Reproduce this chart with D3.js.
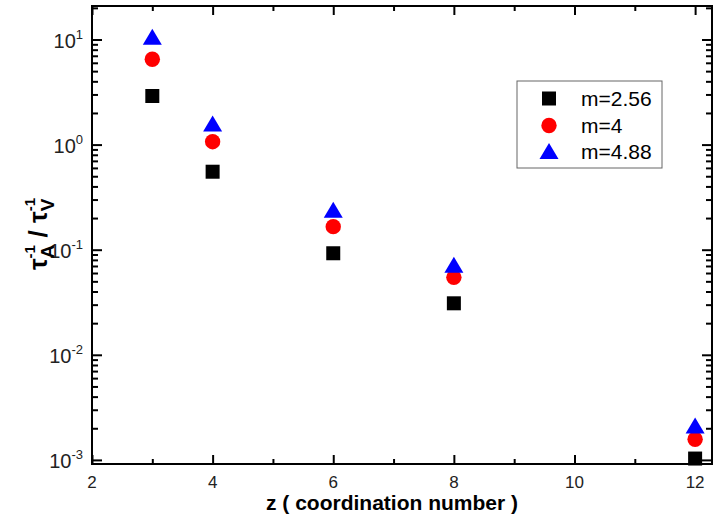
<!DOCTYPE html>
<html><head><meta charset="utf-8">
<script src="https://cdn.jsdelivr.net/npm/d3@7"></script>
<style>body{margin:0;background:#fff;} svg{display:block;font-family:"Liberation Sans",Arial,sans-serif;}</style>
</head><body><svg id="c" width="720" height="518"></svg>
<script>
const zValues = [3, 4, 6, 8, 12];
const seriesNames = ["m=2.56", "m=4", "m=4.88"];
const m256 = [2.9, 0.552, 0.0925, 0.0309, 0.00103];
const m4 = [6.49, 1.066, 0.1656, 0.0546, 0.00157];
const m488 = [10.5, 1.57, 0.237, 0.071, 0.0021];
const xTicks = [2, 4, 6, 8, 10, 12];
const yDecades = [-3, -2, -1, 0, 1];

const svg = d3.select("#c");
const L = 92, R = 712, T = 6, B = 464;
const x = d3.scaleLinear().domain([2, 12.28]).range([L, R]);
const y = d3.scaleLog().domain([Math.pow(10, -3.039), Math.pow(10, 1.3187)]).range([B, T]);

const majorY = yDecades.map(e => Math.pow(10, e));
const minorY = [];
yDecades.forEach(e => { for (let k = 2; k <= 9; k++) { const v = k * Math.pow(10, e); if (v <= y.domain()[1]) minorY.push(v); } });
const minorX = [3, 5, 7, 9, 11];

function styleAxis(g) {
  g.select(".domain").remove();
  g.selectAll(".tick line").attr("stroke", "#000").attr("stroke-width", 2);
}
svg.append("g").attr("transform", `translate(${L},0)`)
  .call(d3.axisRight(y).tickValues(majorY).tickSize(10).tickFormat("")).call(styleAxis);
svg.append("g").attr("transform", `translate(${L},0)`)
  .call(d3.axisRight(y).tickValues(minorY).tickSize(6).tickFormat("")).call(styleAxis);
svg.append("g").attr("transform", `translate(${R},0)`)
  .call(d3.axisLeft(y).tickValues(majorY).tickSize(10).tickFormat("")).call(styleAxis);
svg.append("g").attr("transform", `translate(${R},0)`)
  .call(d3.axisLeft(y).tickValues(minorY).tickSize(6).tickFormat("")).call(styleAxis);
svg.append("g").attr("transform", `translate(0,${B})`)
  .call(d3.axisTop(x).tickValues(xTicks).tickSize(9).tickFormat("")).call(styleAxis);
svg.append("g").attr("transform", `translate(0,${B})`)
  .call(d3.axisTop(x).tickValues(minorX).tickSize(5).tickFormat("")).call(styleAxis);
svg.append("g").attr("transform", `translate(0,${T})`)
  .call(d3.axisBottom(x).tickValues(xTicks).tickSize(9).tickFormat("")).call(styleAxis);
svg.append("g").attr("transform", `translate(0,${T})`)
  .call(d3.axisBottom(x).tickValues(minorX).tickSize(5).tickFormat("")).call(styleAxis);

svg.append("rect").attr("x", L).attr("y", T).attr("width", R - L).attr("height", B - T)
  .attr("fill", "none").attr("stroke", "#000").attr("stroke-width", 2);

svg.append("g").selectAll("text").data(xTicks).join("text")
  .attr("x", d => x(d)).attr("y", 488).attr("text-anchor", "middle")
  .attr("font-size", 17).attr("fill", "#222").text(d => d);

const yl = svg.append("g").selectAll("text").data(yDecades).join("text")
  .attr("x", 83).attr("y", d => y(Math.pow(10, d)) + 8.5).attr("text-anchor", "end")
  .attr("fill", "#222");
yl.append("tspan").attr("font-size", 20).text("10");
yl.append("tspan").attr("font-size", 13).attr("dy", -9).text(d => d);

svg.append("g").selectAll("rect").data(zValues.map((z, i) => [z, m256[i]])).join("rect")
  .attr("x", d => x(d[0]) - 7).attr("y", d => y(d[1]) - 7).attr("width", 14).attr("height", 14).attr("fill", "#000");
svg.append("g").selectAll("circle").data(zValues.map((z, i) => [z, m4[i]])).join("circle")
  .attr("cx", d => x(d[0])).attr("cy", d => y(d[1])).attr("r", 7.7).attr("fill", "#ff0000");
svg.append("g").selectAll("path").data(zValues.map((z, i) => [z, m488[i]])).join("path")
  .attr("d", "M0,-8.5L9.5,7.5L-9.5,7.5Z")
  .attr("transform", d => `translate(${x(d[0])},${y(d[1])})`).attr("fill", "#0000ff");

svg.append("line").attr("x1", L).attr("x2", R).attr("y1", B).attr("y2", B).attr("stroke", "#000").attr("stroke-width", 2);

const lg = svg.append("g");
lg.append("rect").attr("x", 517).attr("y", 81).attr("width", 145).attr("height", 87)
  .attr("fill", "#fff").attr("stroke", "#666").attr("stroke-width", 1);
const ly = [98.5, 125.5, 151.5];
lg.append("rect").attr("x", 549 - 7).attr("y", ly[0] - 7).attr("width", 14).attr("height", 14).attr("fill", "#000");
lg.append("circle").attr("cx", 549).attr("cy", ly[1]).attr("r", 7.7).attr("fill", "#ff0000");
lg.append("path").attr("d", "M0,-8.5L9.5,7.5L-9.5,7.5Z").attr("transform", `translate(549,${ly[2]})`).attr("fill", "#0000ff");
lg.selectAll("text.lt").data(seriesNames).join("text").attr("class", "lt")
  .attr("x", 581).attr("y", (d, i) => ly[i] + 7.5).attr("font-size", 21).attr("fill", "#000").text(d => d);

svg.append("text").attr("x", 392).attr("y", 510).attr("text-anchor", "middle")
  .attr("font-size", 21).attr("font-weight", "bold").text("z ( coordination number )");

const yt = svg.append("g");
const inner = yt.append("g").attr("font-weight", "bold").attr("fill", "#000");
let cx = 0;
function piece(txt, size, dy) {
  const t = inner.append("text").attr("x", cx).attr("y", dy).attr("font-size", size)
    .style("white-space", "pre").text(txt);
  return t.node().getComputedTextLength();
}
function stack(sup, sub) {
  const w1 = piece(sup, 15, -12);
  const w2 = piece(sub, 19, 7);
  cx += Math.max(w1, w2);
}
cx += piece("τ", 26, 0);
stack("-1", "A");
cx += piece("\u00A0/\u00A0", 26, 0);
cx += piece("τ", 26, 0);
stack("-1", "V");
inner.attr("transform", `translate(${-cx / 2},0)`);
yt.attr("transform", "translate(47,234) rotate(-90)");
</script></body></html>
